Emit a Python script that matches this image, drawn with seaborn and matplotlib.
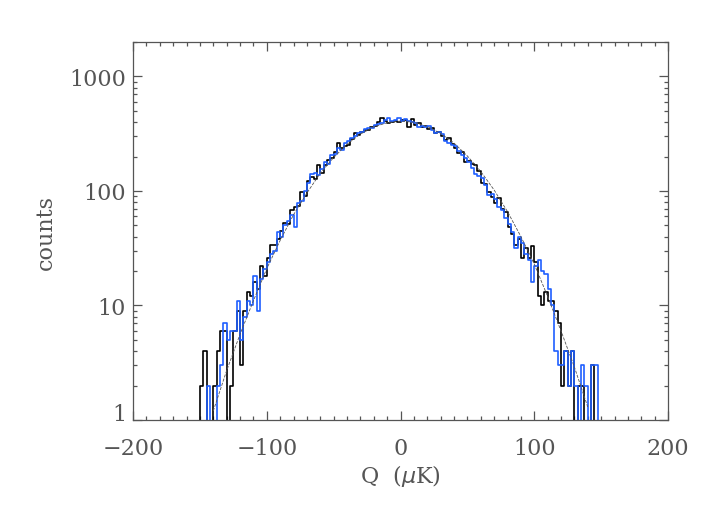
import numpy as np
import pandas as pd
import seaborn as sns
import matplotlib.pyplot as plt

# histogram bins: -150 .. 150 uK, 2.5 uK wide (120 bins)
bin_lo = -150.0
bin_width = 2.5

black_counts = [
    2, 4, 0, 0, 2, 4, 6, 6, 0, 2,
    6, 9, 3, 9, 13, 12, 16, 14, 22, 18,
    26, 34, 34, 38, 45, 53, 52, 68, 72, 74,
    98, 90, 122, 132, 128, 170, 145, 168, 186, 195,
    220, 262, 238, 245, 250, 285, 320, 310, 325, 340,
    342, 362, 370, 400, 430, 410, 390, 402, 412, 398,
    420, 415, 360, 425, 380, 392, 365, 372, 350, 355,
    322, 330, 300, 280, 292, 258, 235, 215, 220, 180,
    182, 172, 168, 148, 118, 115, 98, 88, 78, 86,
    70, 65, 48, 42, 34, 38, 26, 32, 26, 33,
    24, 12, 10, 13, 11, 11, 9, 7, 2, 4,
    2, 4, 0, 2, 2, 0, 0, 3, 0, 0,
]

blue_counts = [
    0, 0, 2, 0, 0, 2, 3, 7, 5, 6,
    6, 11, 5, 8, 11, 10, 18, 9, 17, 21,
    24, 28, 30, 44, 40, 50, 55, 62, 48, 78,
    82, 100, 118, 140, 145, 138, 155, 178, 172, 205,
    210, 235, 228, 262, 275, 290, 305, 320, 330, 345,
    355, 352, 375, 385, 395, 420, 435, 410, 418, 430,
    405, 428, 412, 400, 395, 360, 370, 362, 368, 340,
    318, 325, 312, 275, 262, 250, 245, 222, 205, 195,
    178, 160, 140, 135, 130, 112, 92, 95, 85, 72,
    68, 58, 52, 44, 32, 40, 35, 28, 25, 16,
    22, 25, 20, 19, 14, 10, 4, 3, 3, 4,
    2, 4, 2, 0, 3, 2, 0, 3, 3, 0,
]

# gaussian fit
fit_q = [-140, -130, -120, -110, -100, -90, -80, -70, -60, -50, -40, -30, -20, -10, 0,
         10, 20, 30, 40, 50, 60, 70, 80, 90, 100, 110, 120, 130, 140]
fit_counts = [1.2, 2.7, 5.6, 11, 21, 37, 62, 96, 143, 196, 256, 314, 362, 395, 408,
              398, 366, 318, 262, 202, 148, 102, 66, 40, 23, 12, 6, 2.9, 1.3]

xticks = [-200, -100, 0, 100, 200]
yticks = [1, 10, 100, 1000]

# one empty bin on each side so the outer edges drop to the axis
n = len(black_counts)
edges = bin_lo + bin_width * np.arange(-1, n + 2)
centers = edges[:-1] + bin_width / 2
floor = 0.05
df = pd.DataFrame({
    'q': centers,
    'black': np.maximum(np.r_[0, black_counts, 0], floor),
    'blue': np.maximum(np.r_[0, blue_counts, 0], floor),
})
fit = pd.DataFrame({'q': fit_q, 'counts': fit_counts})

sns.set_style('ticks')
grey = '#555555'
plt.rcParams['font.family'] = ['DejaVu Serif']

fig = plt.figure(figsize=(7.08, 5.06), dpi=100)
ax = fig.add_axes([0.1879, 0.168, 0.7556, 0.747])

sns.histplot(data=df, x='q', weights='black', bins=list(edges), element='step', fill=False,
             color='black', linewidth=1.2, ax=ax)
sns.histplot(data=df, x='q', weights='blue', bins=list(edges), element='step', fill=False,
             color='#1f5fff', linewidth=1.2, ax=ax)
sns.lineplot(data=fit, x='q', y='counts', color='#555555', linewidth=0.6,
             dashes=(5, 4), linestyle='--', ax=ax)

ax.set_yscale('log')
ax.set_xlim(-200, 200)
ax.set_ylim(1, 2000)
ax.set_xticks(xticks)
ax.set_xticks(np.arange(-200, 201, 10), minor=True)
ax.set_yticks(yticks)
ax.set_yticklabels([str(t) for t in yticks])
ax.set_xticklabels([str(t).replace('-', '\u2212') for t in xticks])

ax.tick_params(which='both', direction='in', top=True, right=True, colors=grey,
               labelcolor=grey, labelsize=16)
ax.tick_params(which='major', length=6.5, width=0.9)
ax.tick_params(which='minor', length=3.2, width=0.9)
ax.tick_params(axis='x', pad=12.5)
ax.tick_params(axis='y', pad=5)
# bottom label sits on the axis, the others are centred on their ticks
ax.get_yticklabels()[0].set_verticalalignment('baseline')
for s in ax.spines.values():
    s.set_color(grey)
    s.set_linewidth(0.9)

ax.set_xlabel('Q  ($\\mu$K)', fontsize=16, color=grey, labelpad=2)
ax.set_ylabel('counts', fontsize=16, color=grey, labelpad=9)

fig.savefig('out.png', dpi=100)
